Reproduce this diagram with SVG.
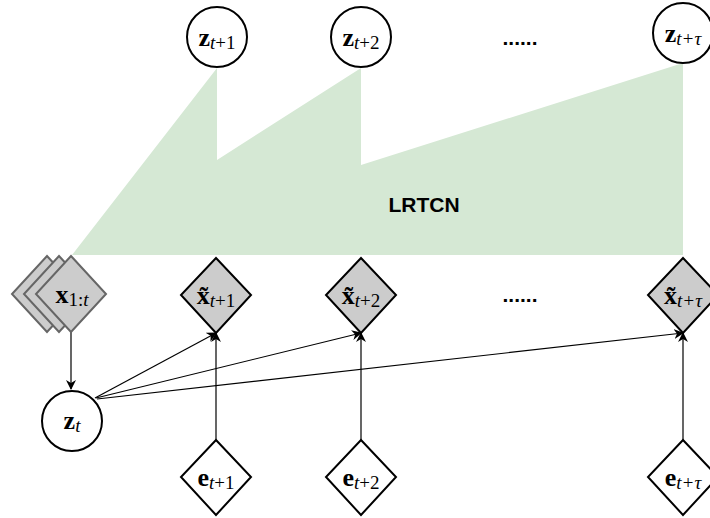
<svg xmlns="http://www.w3.org/2000/svg" width="710" height="518" viewBox="0 0 710 518">
<style>
.c{fill:#fff;stroke:#000;stroke-width:2}
.dg{fill:#cccccc;stroke:#000;stroke-width:2}
.dw{fill:#fff;stroke:#000;stroke-width:2}
.dx{fill:#cccccc;stroke:#666;stroke-width:2}
.t{font-family:"Liberation Serif",serif;font-size:26px;text-anchor:middle;fill:#000}
.b{font-weight:bold}
.s{font-size:19px}
.i{font-style:italic}
.ln{stroke:#000;stroke-width:1.2;fill:none;marker-end:url(#ah)}
.dots{font-family:"Liberation Sans",sans-serif;font-weight:bold;font-size:21px;text-anchor:middle}
</style>
<defs>
<marker id="ah" markerWidth="10" markerHeight="10" refX="9" refY="5" orient="auto" markerUnits="userSpaceOnUse">
<path d="M0,0 L10,5 L0,10 L3,5 Z" fill="#000"/>
</marker>
</defs>
<g id="lrtcn">
<polygon points="72,255 217,68 217,160 361,68 361,165 683,63 683,255" fill="#d5e8d4"/>
<text x="424" y="212" font-family="Liberation Sans,sans-serif" font-weight="bold" font-size="21" text-anchor="middle">LRTCN</text>
</g>
<g id="connectors">
<line class="ln" x1="71" y1="331" x2="71" y2="389"/>
<line class="ln" x1="95" y1="398" x2="216" y2="333"/>
<line class="ln" x1="96" y1="398" x2="361" y2="333"/>
<line class="ln" x1="97" y1="399" x2="683" y2="333"/>
<line class="ln" x1="216" y1="440" x2="216" y2="333"/>
<line class="ln" x1="361" y1="440" x2="361" y2="333"/>
<line class="ln" x1="683" y1="440" x2="683" y2="333"/>
</g>
<g id="z1">
<circle class="c" cx="217" cy="37" r="30"/>
<text class="t" x="217" y="46"><tspan class="b">z</tspan><tspan class="s" dy="3"><tspan class="i">t</tspan>+1</tspan></text>
</g>
<g id="z2">
<circle class="c" cx="361" cy="37" r="30"/>
<text class="t" x="361" y="46"><tspan class="b">z</tspan><tspan class="s" dy="3"><tspan class="i">t</tspan>+2</tspan></text>
</g>
<g id="ztau">
<circle class="c" cx="683" cy="33" r="30"/>
<text class="t" x="683" y="42"><tspan class="b">z</tspan><tspan class="s i" dy="3">t+τ</tspan></text>
</g>
<text class="dots" x="520" y="45">......</text>
<text class="dots" x="520" y="302">......</text>
<g id="x1t">
<polygon class="dx" points="47,256 82,294 47,332 12,294"/>
<polygon class="dx" points="59,256 94,294 59,332 24,294"/>
<polygon class="dx" points="71,256 106,294 71,332 36,294"/>
<text class="t" x="72" y="303"><tspan class="b">x</tspan><tspan class="s" dy="3">1:<tspan class="i">t</tspan></tspan></text>
</g>
<g id="xt1">
<polygon class="dg" points="216,258 251,295 216,333 181,295"/>
<text class="t" x="216" y="304"><tspan class="b">x̃</tspan><tspan class="s" dy="3"><tspan class="i">t</tspan>+1</tspan></text>
</g>
<g id="xt2">
<polygon class="dg" points="361,258 396,295 361,333 326,295"/>
<text class="t" x="361" y="304"><tspan class="b">x̃</tspan><tspan class="s" dy="3"><tspan class="i">t</tspan>+2</tspan></text>
</g>
<g id="xttau">
<polygon class="dg" points="683,258 718,295 683,333 648,295"/>
<text class="t" x="683" y="304"><tspan class="b">x̃</tspan><tspan class="s i" dy="3">t+τ</tspan></text>
</g>
<g id="zt">
<circle class="c" cx="72" cy="421" r="30"/>
<text class="t" x="72" y="429"><tspan class="b">z</tspan><tspan class="s i" dy="3">t</tspan></text>
</g>
<g id="e1">
<polygon class="dw" points="216,440 251,477 216,515 181,477"/>
<text class="t" x="216" y="486"><tspan class="b">e</tspan><tspan class="s" dy="3"><tspan class="i">t</tspan>+1</tspan></text>
</g>
<g id="e2">
<polygon class="dw" points="361,440 396,477 361,515 326,477"/>
<text class="t" x="361" y="486"><tspan class="b">e</tspan><tspan class="s" dy="3"><tspan class="i">t</tspan>+2</tspan></text>
</g>
<g id="etau">
<polygon class="dw" points="683,440 718,477 683,515 648,477"/>
<text class="t" x="683" y="486"><tspan class="b">e</tspan><tspan class="s i" dy="3">t+τ</tspan></text>
</g>
</svg>
